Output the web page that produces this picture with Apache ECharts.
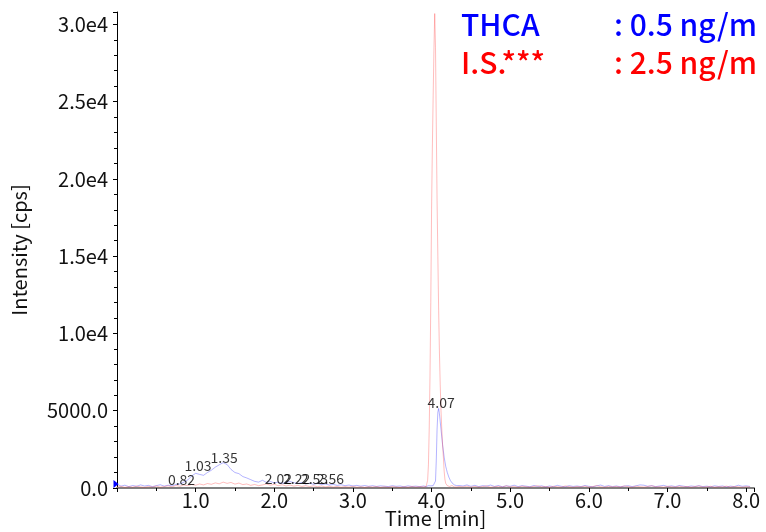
<!DOCTYPE html>
<html>
<head>
<meta charset="utf-8">
<script src="https://cdn.jsdelivr.net/npm/echarts@6/dist/echarts.min.js"></script>
<style>
html,body{margin:0;padding:0;background:#fff;}
#chart{width:766px;height:532px;}
</style>
</head>
<body>
<div id="chart"></div>
<script>
// ---- data ----
const timeMin = [
  0.00,0.05,0.10,0.15,0.20,0.25,0.30,0.35,0.40,0.45,0.50,0.55,0.60,0.65,0.70,0.75,0.80,0.85,0.90,0.95,
  1.00,1.05,1.10,1.15,1.20,1.25,1.30,1.35,1.40,1.45,1.50,1.55,1.60,1.65,1.70,1.75,1.80,1.85,1.90,1.95,
  2.00,2.05,2.10,2.15,2.20,2.25,2.30,2.35,2.40,2.45,2.50,2.55,2.60,2.65,2.70,2.75,2.80,2.85,2.90,2.95,
  3.00,3.05,3.10,3.15,3.20,3.25,3.30,3.35,3.40,3.45,3.50,3.55,3.60,3.65,3.70,3.75,3.80,3.85,3.90,
  3.91,3.92,3.93,3.94,3.95,3.96,3.97,3.98,3.99,4.00,4.01,4.02,4.03,4.04,4.05,4.06,4.07,4.08,4.09,4.10,
  4.11,4.12,4.13,4.14,4.15,4.16,4.17,4.18,4.19,4.20,4.21,4.22,4.23,4.24,4.25,4.26,4.27,4.28,4.29,4.30,
  4.31,4.32,4.33,4.34,4.35,
  4.40,4.45,4.50,4.55,4.60,4.65,4.70,4.75,4.80,4.85,4.90,4.95,5.00,5.05,5.10,5.15,5.20,5.25,5.30,5.35,
  5.40,5.45,5.50,5.55,5.60,5.65,5.70,5.75,5.80,5.85,5.90,5.95,6.00,6.05,6.10,6.15,6.20,6.25,6.30,6.35,
  6.40,6.45,6.50,6.55,6.60,6.65,6.70,6.75,6.80,6.85,6.90,6.95,7.00,7.05,7.10,7.15,7.20,7.25,7.30,7.35,
  7.40,7.45,7.50,7.55,7.60,7.65,7.70,7.75,7.80,7.85,7.90,7.95,8.00,8.05
];
const thcaCps = [
  250,120,180,90,160,110,200,130,170,90,150,210,120,180,140,230,260,380,520,780,
  950,880,820,1000,1150,1350,1500,1640,1520,1200,1000,930,740,650,540,430,380,500,360,420,
  330,380,300,360,420,340,290,350,260,310,240,300,220,260,190,230,170,210,150,190,
  130,170,120,160,110,150,100,140,120,90,150,110,130,80,140,100,120,90,130,
  110,140,90,130,100,150,110,90,140,120,100,150,130,200,450,1800,3800,4900,5150,4800,
  4300,3800,3300,2800,2400,2000,1700,1400,1200,1000,850,700,580,480,400,330,280,250,200,230,
  170,150,190,120,160,
  130,200,110,170,90,150,120,190,100,160,80,140,110,180,90,150,120,80,160,100,
  140,70,130,90,170,110,80,150,100,130,90,160,110,80,140,190,100,150,90,130,
  80,120,150,90,140,200,180,110,150,90,130,170,100,140,90,160,120,80,130,100,
  150,90,120,80,140,100,130,70,120,90,180,110,140,100
];
const isCps = [
  60,110,40,90,50,120,70,40,100,60,130,50,90,140,70,160,110,200,150,230,
  180,260,200,290,240,330,270,380,300,360,250,320,220,260,170,230,150,200,260,180,
  240,150,210,130,190,120,170,100,150,90,140,80,130,70,110,60,100,50,90,60,
  110,50,80,40,90,60,100,40,80,50,90,60,40,80,50,100,60,90,70,
  80,110,90,150,500,1500,3800,7200,12000,18000,22000,25300,28300,30700,28500,23500,18600,15000,11500,8800,
  6700,5000,3800,2800,2000,1100,550,300,200,150,120,180,100,140,90,160,80,120,70,130,
  90,60,110,80,100,
  70,120,50,100,60,90,130,50,80,110,60,140,70,90,50,120,80,60,100,140,
  70,90,50,110,80,60,130,90,50,100,70,120,60,90,150,80,50,110,70,100,
  60,130,90,50,120,80,60,100,140,70,90,50,110,80,60,120,70,100,50,90,
  130,60,80,110,50,90,70,120,60,100,80,50,90,70
];
const peakLabels = ['0.82','1.03','1.35','2.02','2.22','2.53','2.56','4.07'];
const peakRT     = [0.82, 1.03, 1.35, 2.02, 2.22, 2.53, 2.56, 4.07];
const peakHeight = [0, 900, 1450, 100, 100, 100, 100, 5000];
const legendNames = ['THCA', 'I.S.***'];
const legendConc  = [': 0.5 ng/m', ': 2.5 ng/m'];
const yTickLabels = {0:'0.0', 5000:'5000.0', 10000:'1.0e4', 15000:'1.5e4', 20000:'2.0e4', 25000:'2.5e4', 30000:'3.0e4'};

// ---- build ----
const FONT = '"Noto Sans CJK JP", "Noto Sans", sans-serif';
const labelShiftX = [0, 0, 1, 2.5, 5, -1.5, 12, 4];

const chart = echarts.init(document.getElementById('chart'), null, {renderer: 'canvas'});
const blueData = timeMin.map((t, i) => [t, thcaCps[i]]);
const redData = timeMin.map((t, i) => [t, isCps[i]]);
const labelData = peakRT.map((t, i) => ({
  value: [t, peakHeight[i]],
  label: {offset: [labelShiftX[i], 0]},
  name: peakLabels[i]
}));

chart.setOption({
  animation: false,
  backgroundColor: '#ffffff',
  grid: {left: 117, right: 12, top: 12, bottom: 44, containLabel: false, outerBoundsMode: 'none'},
  xAxis: {
    type: 'value', min: 0, max: 8.1, interval: 1,
    name: 'Time [min]', nameLocation: 'middle', nameGap: 20, nameMoveOverlap: false,
    nameTextStyle: {fontFamily: FONT, fontSize: 20, color: '#111'},
    axisLine: {show: true, onZero: false, lineStyle: {color: '#808080', width: 2}},
    axisTick: {show: true, length: 4, lineStyle: {color: '#000', width: 1}},
    minorTick: {show: true, splitNumber: 2, length: 3, lineStyle: {color: '#000', width: 1}},
    axisLabel: {
      fontFamily: FONT, fontSize: 20, color: '#111', margin: 2,
      formatter: v => (Math.abs(v - Math.round(v)) < 1e-6 && v > 0) ? v.toFixed(1) : ''
    },
    splitLine: {show: false}
  },
  yAxis: {
    type: 'value', min: 0, max: 30800, interval: 5000,
    name: 'Intensity [cps]', nameLocation: 'middle', nameGap: 88, nameRotate: 90, nameMoveOverlap: false,
    nameTextStyle: {fontFamily: FONT, fontSize: 20, color: '#111'},
    axisLine: {show: true, lineStyle: {color: '#000', width: 1}},
    axisTick: {show: true, length: 4, lineStyle: {color: '#000', width: 1}},
    minorTick: {show: true, splitNumber: 5, length: 3, lineStyle: {color: '#000', width: 1}},
    axisLabel: {
      fontFamily: FONT, fontSize: 20, color: '#111', margin: 9,
      formatter: v => (yTickLabels[v] !== undefined ? yTickLabels[v] : '')
    },
    splitLine: {show: false}
  },
  series: [
    {
      name: legendNames[0], type: 'line', data: blueData, showSymbol: false, z: 2,
      lineStyle: {color: 'rgba(40,40,255,0.35)', width: 1},
      markPoint: {
        silent: true,
        symbol: 'triangle', symbolRotate: -90, symbolSize: [8, 5], symbolOffset: [-1, 0],
        itemStyle: {color: '#0000ff'},
        label: {show: false},
        data: [{coord: [0, 260]}]
      }
    },
    {
      name: legendNames[1], type: 'line', data: redData, showSymbol: false, z: 3,
      lineStyle: {color: 'rgba(255,40,40,0.3)', width: 1}
    },
    {
      type: 'scatter', data: labelData, symbolSize: 0, z: 5, silent: true,
      label: {
        show: true, position: 'top', distance: 1,
        fontFamily: FONT, fontSize: 14, color: '#000',
        formatter: p => p.name
      }
    }
  ],
  graphic: [
    {type: 'text', left: 461, top: 10, style: {text: legendNames[0], font: '500 30px ' + FONT, fill: '#0000ff'}},
    {type: 'text', left: 614, top: 10, style: {text: legendConc[0], font: '500 30px ' + FONT, fill: '#0000ff'}},
    {type: 'text', left: 461, top: 48, style: {text: legendNames[1], font: '500 30px ' + FONT, fill: '#ff0000'}},
    {type: 'text', left: 614, top: 48, style: {text: legendConc[1], font: '500 30px ' + FONT, fill: '#ff0000'}}
  ]
});
</script>
</body>
</html>
